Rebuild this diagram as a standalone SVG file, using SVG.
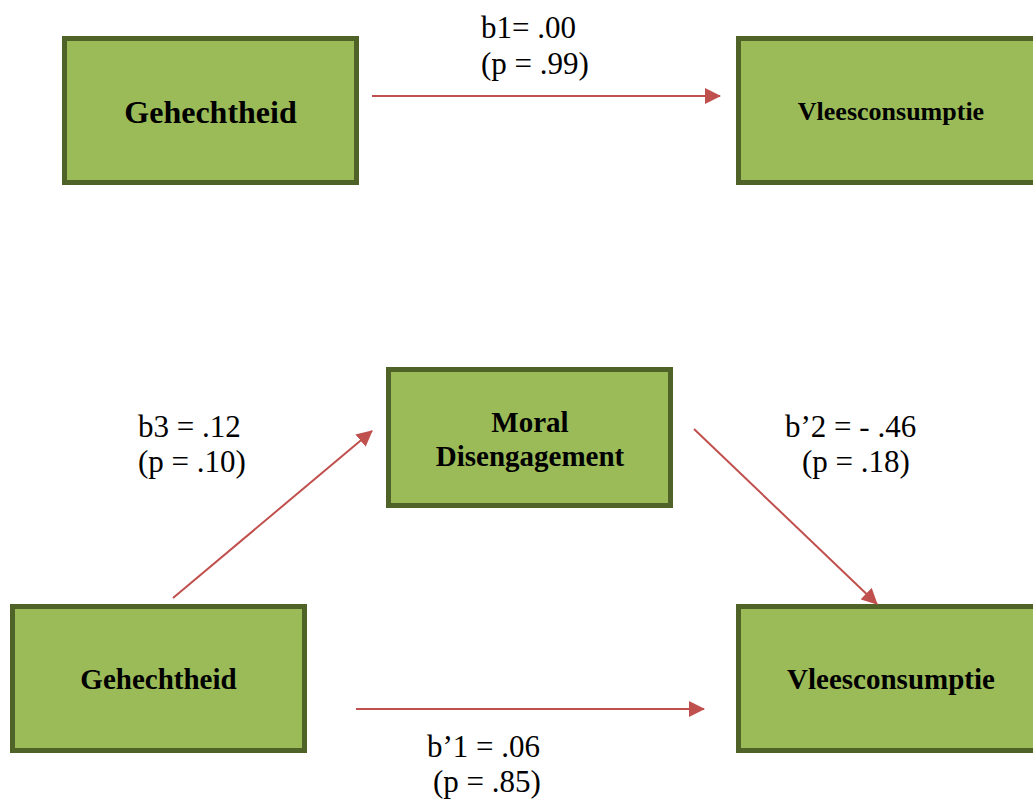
<svg xmlns="http://www.w3.org/2000/svg" width="1033" height="801" viewBox="0 0 1033 801">
<style>
.box{fill:#9BBB59;stroke:#4F6228;stroke-width:5}
.nt{font-family:"Liberation Serif","Times New Roman",serif;font-weight:bold;fill:#000;text-anchor:middle}
.lb{font-family:"Liberation Serif","Times New Roman",serif;font-size:31px;fill:#000}
.conn{stroke:#C0504D;stroke-width:2;fill:none}
</style>
<defs>
<marker id="ah" markerWidth="8" markerHeight="8" refX="7.5" refY="4" orient="auto" markerUnits="strokeWidth">
<path d="M0,0 L8,4 L0,8 Z" fill="#C0504D"/>
</marker>
</defs>
<rect width="1033" height="801" fill="#fff"/>
<g id="n-geh1">
<rect class="box" x="64.5" y="38.5" width="292" height="144"/>
<text class="nt" x="210.5" y="123" font-size="32">Gehechtheid</text>
</g>
<g id="n-vlees1">
<rect class="box" x="738.5" y="38.5" width="310" height="144"/>
<text class="nt" x="891" y="120" font-size="26">Vleesconsumptie</text>
</g>
<g id="n-moral">
<rect class="box" x="388.5" y="369.5" width="282" height="136"/>
<text class="nt" x="530" y="432" font-size="29">Moral</text>
<text class="nt" x="530" y="466" font-size="29">Disengagement</text>
</g>
<g id="n-geh2">
<rect class="box" x="12.5" y="606.5" width="292" height="144"/>
<text class="nt" x="158.5" y="689" font-size="29">Gehechtheid</text>
</g>
<g id="n-vlees2">
<rect class="box" x="738.5" y="606.5" width="310" height="144"/>
<text class="nt" x="891" y="689" font-size="29">Vleesconsumptie</text>
</g>
<g id="connectors">
<line class="conn" x1="372" y1="96" x2="720" y2="96" marker-end="url(#ah)"/>
<line class="conn" x1="173" y1="598" x2="372" y2="431" marker-end="url(#ah)"/>
<line class="conn" x1="694" y1="429" x2="877" y2="604" marker-end="url(#ah)"/>
<line class="conn" x1="356" y1="709" x2="704" y2="709" marker-end="url(#ah)"/>
</g>
<g id="labels">
<text class="lb" x="481" y="38">b1= .00</text>
<text class="lb" x="481" y="74">(p = .99)</text>
<text class="lb" x="138" y="437">b3 = .12</text>
<text class="lb" x="138" y="472">(p = .10)</text>
<text class="lb" x="785" y="437">b’2 = - .46</text>
<text class="lb" x="802" y="472">(p = .18)</text>
<text class="lb" x="427" y="757">b’1 = .06</text>
<text class="lb" x="433" y="792">(p = .85)</text>
</g>
</svg>
